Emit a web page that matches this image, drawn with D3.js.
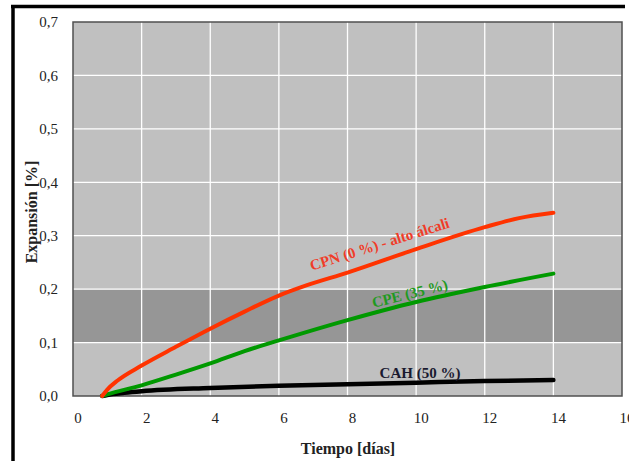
<!DOCTYPE html>
<html><head><meta charset="utf-8">
<script src="https://cdn.jsdelivr.net/npm/d3@7"></script>
<style>body{margin:0;background:#fff;} svg{display:block;}</style>
</head><body>
<svg id="c" width="629" height="461"></svg>
<script>
const xTicks = [0,2,4,6,8,10,12,14,16];
const yTicks = [0,0.1,0.2,0.3,0.4,0.5,0.6,0.7];
const yTickLabels = ["0,0","0,1","0,2","0,3","0,4","0,5","0,6","0,7"];
const band = [0.1, 0.2];
const cpnDays = [0.85,1.0,1.3,2,3,4,5,6,6.8,8,10,12,13,14];
const cpnVals = [0,0.012,0.029,0.057,0.092,0.126,0.158,0.188,0.207,0.231,0.275,0.316,0.333,0.343];
const cpeDays = [0.85,1,2,3,4,5,6,8,10,12,14];
const cpeVals = [0,0.003,0.02,0.04,0.061,0.084,0.104,0.142,0.176,0.204,0.229];
const cahDays = [0.85,1,1.5,2,4,6,8,10,12,14];
const cahVals = [0,0.002,0.006,0.009,0.015,0.019,0.022,0.025,0.028,0.03];
const labels = ["CPN (0 %) - alto álcali","CPE (35 %)","CAH (50 %)"];

const svg = d3.select("#c");
const L=73, R=622, T=22, B=396;
const x = d3.scaleLinear().domain([0,16]).range([L,R]);
const y = d3.scaleLinear().domain([0,0.7]).range([B,T]);
const FF = '"Liberation Serif"';

// outer frame
svg.append("line").attr("x1",11).attr("x2",625).attr("y1",6.5).attr("y2",6.5).attr("stroke","#000").attr("stroke-width",3.5);
svg.append("line").attr("x1",13).attr("x2",13).attr("y1",5).attr("y2",461).attr("stroke","#000").attr("stroke-width",3.5);

// plot bg
svg.append("rect").attr("x",L).attr("y",T).attr("width",R-L).attr("height",B-T).attr("fill","#c0c0c0");
svg.append("rect").attr("x",L).attr("y",y(band[1])).attr("width",R-L).attr("height",y(band[0])-y(band[1])).attr("fill","#969696");

// grid
svg.append("g").selectAll("line").data(xTicks.slice(1,-1)).join("line")
  .attr("x1",d=>x(d)).attr("x2",d=>x(d)).attr("y1",T).attr("y2",B)
  .attr("stroke","#fff").attr("stroke-width",1.3);
svg.append("g").selectAll("line").data(yTicks.slice(1,-1)).join("line")
  .attr("x1",L).attr("x2",R).attr("y1",d=>y(d)).attr("y2",d=>y(d))
  .attr("stroke","#fff").attr("stroke-width",1.3);

svg.append("rect").attr("x",L).attr("y",T).attr("width",R-L).attr("height",B-T)
  .attr("fill","none").attr("stroke","#505050").attr("stroke-width",1.5);

// tick labels
svg.append("g").selectAll("text").data(yTicks).join("text")
  .attr("x",58).attr("y",d=>y(d)).attr("dy","0.35em").attr("text-anchor","end")
  .style("font-family",FF).style("font-size","15px").attr("fill","#222")
  .text((d,i)=>yTickLabels[i]);
svg.append("g").selectAll("text").data(xTicks).join("text")
  .attr("x",d=>x(d)+5).attr("y",418).attr("dy","0.35em").attr("text-anchor","middle")
  .style("font-family",FF).style("font-size","15px").attr("fill","#222")
  .text(d=>d);

// axis titles
svg.append("text").attr("transform","translate(31,212) rotate(-90)").attr("text-anchor","middle").attr("dy","0.35em")
  .style("font-family",FF).style("font-weight","bold").style("font-size","16px").attr("fill","#222")
  .text("Expansión [%]");
svg.append("text").attr("x",348).attr("y",448).attr("dy","0.35em").attr("text-anchor","middle")
  .style("font-family",FF).style("font-weight","bold").style("font-size","16px").attr("fill","#222")
  .text("Tiempo [días]");

// lines
const line = d3.line().x(d=>x(d[0])).y(d=>y(d[1])).curve(d3.curveMonotoneX);
const series = [
  {d:cahDays, v:cahVals, c:"#000000", w:4.5},
  {d:cpeDays, v:cpeVals, c:"#009900", w:4},
  {d:cpnDays, v:cpnVals, c:"#ff3300", w:4}
];
series.forEach(s=>{
  svg.append("path").datum(s.d.map((d,i)=>[d,s.v[i]])).attr("d",line)
    .attr("fill","none").attr("stroke",s.c).attr("stroke-width",s.w).attr("stroke-linecap","round");
});

// series labels
svg.append("text").attr("transform","translate(381,249) rotate(-17.5)").attr("text-anchor","middle")
  .style("font-family",FF).style("font-weight","bold").style("font-size","15px").attr("fill","#f03c28")
  .text(labels[0]);
svg.append("text").attr("transform","translate(411,298.5) rotate(-14)").attr("text-anchor","middle")
  .style("font-family",FF).style("font-weight","bold").style("font-size","15px").attr("fill","#1f9a1f")
  .text(labels[1]);
svg.append("text").attr("x",420).attr("y",373).attr("dy","0.35em").attr("text-anchor","middle")
  .style("font-family",FF).style("font-weight","bold").style("font-size","15px").attr("fill","#1a1a30")
  .text(labels[2]);
</script>
</body></html>
